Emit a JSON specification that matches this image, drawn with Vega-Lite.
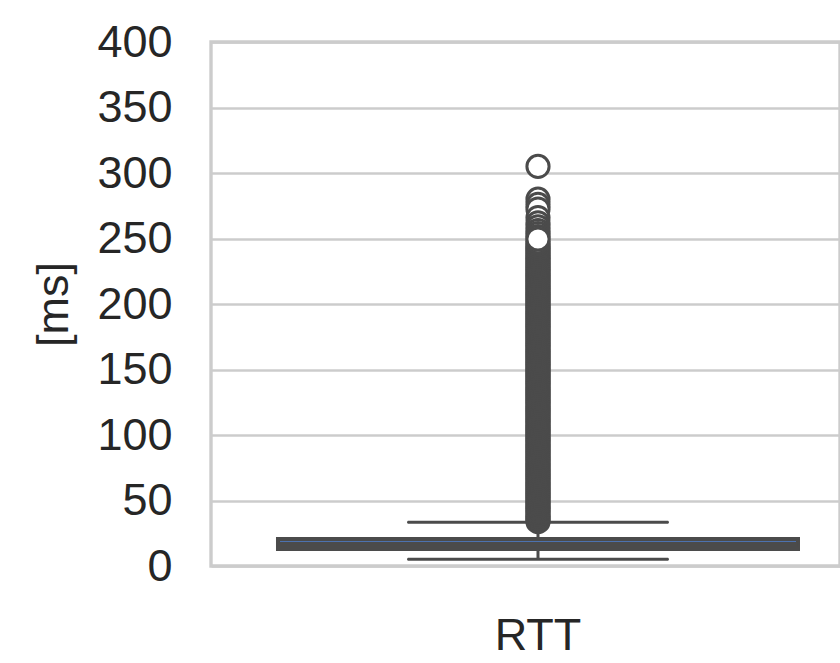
{
  "$schema": "https://vega.github.io/schema/vega-lite/v6.json",
  "autosize": {"type": "none"},
  "padding": {"left": 211, "top": 42, "right": 0, "bottom": 97},
  "width": 629,
  "height": 524,
  "background": "white",
  "config": {
    "font": "Liberation Sans",
    "view": {"stroke": "#cccccc", "strokeWidth": 3.4}
  },
  "datasets": {
    "summary": [
      {"cat": "RTT", "lower": 5.1, "q1": 13.0, "median": 16.4, "q3": 20.6, "upper": 33.4}
    ],
    "outliers": [
      {"cat": "RTT", "rtt": 33.8}, {"cat": "RTT", "rtt": 35.2}, {"cat": "RTT", "rtt": 36.5}, {"cat": "RTT", "rtt": 38}, {"cat": "RTT", "rtt": 39.4},
      {"cat": "RTT", "rtt": 41}, {"cat": "RTT", "rtt": 42.3}, {"cat": "RTT", "rtt": 43.9}, {"cat": "RTT", "rtt": 45.2}, {"cat": "RTT", "rtt": 46.8},
      {"cat": "RTT", "rtt": 48.1}, {"cat": "RTT", "rtt": 49.7}, {"cat": "RTT", "rtt": 51}, {"cat": "RTT", "rtt": 52.6}, {"cat": "RTT", "rtt": 54},
      {"cat": "RTT", "rtt": 55.5}, {"cat": "RTT", "rtt": 56.9}, {"cat": "RTT", "rtt": 58.4}, {"cat": "RTT", "rtt": 59.8}, {"cat": "RTT", "rtt": 61.3},
      {"cat": "RTT", "rtt": 62.7}, {"cat": "RTT", "rtt": 64.2}, {"cat": "RTT", "rtt": 65.6}, {"cat": "RTT", "rtt": 67.1}, {"cat": "RTT", "rtt": 68.5},
      {"cat": "RTT", "rtt": 70}, {"cat": "RTT", "rtt": 71.4}, {"cat": "RTT", "rtt": 72.9}, {"cat": "RTT", "rtt": 74.3}, {"cat": "RTT", "rtt": 75.8},
      {"cat": "RTT", "rtt": 77.2}, {"cat": "RTT", "rtt": 78.7}, {"cat": "RTT", "rtt": 80.1}, {"cat": "RTT", "rtt": 81.6}, {"cat": "RTT", "rtt": 83},
      {"cat": "RTT", "rtt": 84.5}, {"cat": "RTT", "rtt": 85.9}, {"cat": "RTT", "rtt": 87.4}, {"cat": "RTT", "rtt": 88.8}, {"cat": "RTT", "rtt": 90.3},
      {"cat": "RTT", "rtt": 91.7}, {"cat": "RTT", "rtt": 93.2}, {"cat": "RTT", "rtt": 94.6}, {"cat": "RTT", "rtt": 96.1}, {"cat": "RTT", "rtt": 97.5},
      {"cat": "RTT", "rtt": 99}, {"cat": "RTT", "rtt": 100.4}, {"cat": "RTT", "rtt": 101.9}, {"cat": "RTT", "rtt": 103.3}, {"cat": "RTT", "rtt": 104.8},
      {"cat": "RTT", "rtt": 106.2}, {"cat": "RTT", "rtt": 107.7}, {"cat": "RTT", "rtt": 109.1}, {"cat": "RTT", "rtt": 110.6}, {"cat": "RTT", "rtt": 112},
      {"cat": "RTT", "rtt": 113.5}, {"cat": "RTT", "rtt": 114.9}, {"cat": "RTT", "rtt": 116.4}, {"cat": "RTT", "rtt": 117.8}, {"cat": "RTT", "rtt": 119.3},
      {"cat": "RTT", "rtt": 120.7}, {"cat": "RTT", "rtt": 122.2}, {"cat": "RTT", "rtt": 123.6}, {"cat": "RTT", "rtt": 125.1}, {"cat": "RTT", "rtt": 126.5},
      {"cat": "RTT", "rtt": 128}, {"cat": "RTT", "rtt": 129.4}, {"cat": "RTT", "rtt": 130.9}, {"cat": "RTT", "rtt": 132.3}, {"cat": "RTT", "rtt": 133.8},
      {"cat": "RTT", "rtt": 135.2}, {"cat": "RTT", "rtt": 136.7}, {"cat": "RTT", "rtt": 138.1}, {"cat": "RTT", "rtt": 139.6}, {"cat": "RTT", "rtt": 141},
      {"cat": "RTT", "rtt": 142.5}, {"cat": "RTT", "rtt": 143.9}, {"cat": "RTT", "rtt": 145.4}, {"cat": "RTT", "rtt": 146.8}, {"cat": "RTT", "rtt": 148.3},
      {"cat": "RTT", "rtt": 149.7}, {"cat": "RTT", "rtt": 151.2}, {"cat": "RTT", "rtt": 152.6}, {"cat": "RTT", "rtt": 154.1}, {"cat": "RTT", "rtt": 155.5},
      {"cat": "RTT", "rtt": 157}, {"cat": "RTT", "rtt": 158.4}, {"cat": "RTT", "rtt": 159.9}, {"cat": "RTT", "rtt": 161.3}, {"cat": "RTT", "rtt": 162.8},
      {"cat": "RTT", "rtt": 164.2}, {"cat": "RTT", "rtt": 165.7}, {"cat": "RTT", "rtt": 167.1}, {"cat": "RTT", "rtt": 168.6}, {"cat": "RTT", "rtt": 170},
      {"cat": "RTT", "rtt": 171.5}, {"cat": "RTT", "rtt": 172.9}, {"cat": "RTT", "rtt": 174.4}, {"cat": "RTT", "rtt": 175.8}, {"cat": "RTT", "rtt": 177.3},
      {"cat": "RTT", "rtt": 178.7}, {"cat": "RTT", "rtt": 180.2}, {"cat": "RTT", "rtt": 181.6}, {"cat": "RTT", "rtt": 183.1}, {"cat": "RTT", "rtt": 184.5},
      {"cat": "RTT", "rtt": 186}, {"cat": "RTT", "rtt": 187.4}, {"cat": "RTT", "rtt": 188.9}, {"cat": "RTT", "rtt": 190.3}, {"cat": "RTT", "rtt": 191.8},
      {"cat": "RTT", "rtt": 193.2}, {"cat": "RTT", "rtt": 194.7}, {"cat": "RTT", "rtt": 196.1}, {"cat": "RTT", "rtt": 197.6}, {"cat": "RTT", "rtt": 199},
      {"cat": "RTT", "rtt": 200.5}, {"cat": "RTT", "rtt": 201.9}, {"cat": "RTT", "rtt": 203.4}, {"cat": "RTT", "rtt": 204.8}, {"cat": "RTT", "rtt": 206.3},
      {"cat": "RTT", "rtt": 207.7}, {"cat": "RTT", "rtt": 209.2}, {"cat": "RTT", "rtt": 210.6}, {"cat": "RTT", "rtt": 212.1}, {"cat": "RTT", "rtt": 213.5},
      {"cat": "RTT", "rtt": 215}, {"cat": "RTT", "rtt": 216.4}, {"cat": "RTT", "rtt": 217.9}, {"cat": "RTT", "rtt": 219.3}, {"cat": "RTT", "rtt": 220.8},
      {"cat": "RTT", "rtt": 222.2}, {"cat": "RTT", "rtt": 223.7}, {"cat": "RTT", "rtt": 225.1}, {"cat": "RTT", "rtt": 226.6}, {"cat": "RTT", "rtt": 228},
      {"cat": "RTT", "rtt": 229.5}, {"cat": "RTT", "rtt": 230.9}, {"cat": "RTT", "rtt": 232.4}, {"cat": "RTT", "rtt": 233.8}, {"cat": "RTT", "rtt": 235.3},
      {"cat": "RTT", "rtt": 236.7}, {"cat": "RTT", "rtt": 238.2}, {"cat": "RTT", "rtt": 239.6}, {"cat": "RTT", "rtt": 241.1}, {"cat": "RTT", "rtt": 242.5},
      {"cat": "RTT", "rtt": 244}, {"cat": "RTT", "rtt": 245.8}, {"cat": "RTT", "rtt": 247.5},
      {"cat": "RTT", "rtt": 305}, {"cat": "RTT", "rtt": 280}, {"cat": "RTT", "rtt": 276}, {"cat": "RTT", "rtt": 272.5},
      {"cat": "RTT", "rtt": 266}, {"cat": "RTT", "rtt": 262}, {"cat": "RTT", "rtt": 259}, {"cat": "RTT", "rtt": 256},
      {"cat": "RTT", "rtt": 253.7}, {"cat": "RTT", "rtt": 251.4}, {"cat": "RTT", "rtt": 249.6}
    ]
  },
  "encoding": {
    "x": {
      "field": "cat",
      "type": "nominal",
      "scale": {"paddingInner": 0, "paddingOuter": 0.1002, "align": 0.619},
      "axis": {
        "title": null,
        "domain": false,
        "ticks": false,
        "tickSize": 0,
        "grid": false,
        "labelAngle": 0,
        "labelFontSize": 45,
        "labelColor": "#262626",
        "labelPadding": 47
      }
    }
  },
  "layer": [
    {
      "data": {"name": "summary"},
      "mark": {"type": "rule", "color": "#4b4b4b", "strokeWidth": 3, "opacity": 1},
      "encoding": {
        "y": {
          "field": "lower",
          "type": "quantitative",
          "scale": {"domain": [0, 400], "nice": false, "zero": false},
          "axis": {
            "title": "[ms]",
            "values": [0, 50, 100, 150, 200, 250, 300, 350, 400],
            "domain": false,
            "ticks": false,
            "tickSize": 0,
            "grid": true,
            "gridColor": "#cccccc",
            "gridWidth": 2.7,
            "gridOpacity": 1,
            "labelFontSize": 45,
            "labelColor": "#262626",
            "labelPadding": 39,
            "titleFontSize": 45,
            "titleFontWeight": "normal",
            "titleColor": "#262626",
            "titlePadding": 20
          }
        },
        "y2": {"field": "upper"}
      }
    },
    {
      "data": {"name": "summary"},
      "mark": {"type": "tick", "color": "#4b4b4b", "size": 262, "thickness": 3, "cornerRadius": 1.5, "opacity": 1},
      "encoding": {"y": {"field": "upper", "type": "quantitative"}}
    },
    {
      "data": {"name": "summary"},
      "mark": {"type": "tick", "color": "#4b4b4b", "size": 262, "thickness": 3, "cornerRadius": 1.5, "opacity": 1},
      "encoding": {"y": {"field": "lower", "type": "quantitative"}}
    },
    {
      "data": {"name": "summary"},
      "mark": {"type": "bar", "fill": "#4c72b0", "stroke": "#4b4b4b", "strokeWidth": 4, "opacity": 1, "width": {"band": 0.9924}},
      "encoding": {
        "y": {"field": "q1", "type": "quantitative"},
        "y2": {"field": "q3"}
      }
    },
    {
      "data": {"name": "summary"},
      "mark": {"type": "tick", "color": "#4b4b4b", "size": 520, "thickness": 5, "opacity": 1},
      "encoding": {"y": {"field": "median", "type": "quantitative"}}
    },
    {
      "data": {"name": "outliers"},
      "mark": {"type": "point", "shape": "circle", "filled": true, "fill": "white", "stroke": "#4b4b4b", "strokeWidth": 3, "size": 491, "opacity": 1},
      "encoding": {"y": {"field": "rtt", "type": "quantitative"}}
    }
  ]
}
